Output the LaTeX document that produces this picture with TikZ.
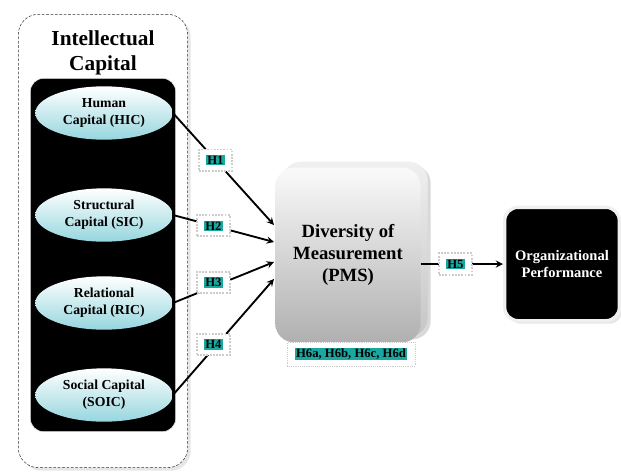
\documentclass[tikz,border=0pt]{standalone}
\usepackage{fontspec}
\setmainfont{Liberation Serif}
\usetikzlibrary{shapes.geometric, positioning, arrows, shadows}
\definecolor{hlteal}{RGB}{24,168,160}
\definecolor{capcyan}{RGB}{150,214,222}
\newcommand{\hyp}[1]{{\setlength{\fboxsep}{0.8pt}\colorbox{hlteal}{#1}}}

\begin{document}
\begin{tikzpicture}[x=0.75pt, y=-0.75pt, >=stealth,
    capital/.style={ellipse, minimum width=103pt, minimum height=40pt, inner sep=0pt, align=center, top color=white, bottom color=capcyan, font=\fontsize{10.3}{12.7}\selectfont\bfseries},
    hyplabel/.style={fill=white, draw=gray!40, densely dotted, inner xsep=5.5pt, inner ysep=4pt, font=\fontsize{9.5}{11}\selectfont\bfseries},
    link/.style={->, line width=1.4pt}]
    \useasboundingbox (0,0) rectangle (621,472);

    % intellectual capital group
    \node[draw=black!80, dash pattern=on 2pt off 1.3pt, fill=white, rounded corners=15pt, minimum width=127pt, minimum height=340pt, drop shadow={opacity=0.2}] (ic) at (103,241) {};
    \node[align=center, font=\fontsize{16}{19}\selectfont\bfseries] (ictitle) at (103,53) {Intellectual\\Capital};
    \node[fill=black, draw=gray!20, rounded corners=10pt, minimum width=109pt, minimum height=265pt] (icbox) at (103,255) {};

    \node[capital] (hic) at (104,113) {Human\\Capital (HIC)};
    \node[capital] (sic) at (104,215) {Structural\\Capital (SIC)};
    \node[capital] (ric) at (104,303) {Relational\\Capital (RIC)};
    \node[capital] (soic) at (104,395) {Social Capital\\(SOIC)};

    % performance measurement
    \node[top color=gray!12, bottom color=gray!45, rounded corners=14pt, minimum width=109pt, minimum height=131pt, drop shadow={opacity=0.3}] (pmsback) at (355,249) {};
    \node[top color=gray!4, bottom color=gray!62, rounded corners=14pt, minimum width=109pt, minimum height=131pt, align=center, font=\fontsize{14}{16.5}\selectfont\bfseries] (pms) at (348,255) {Diversity of\\Measurement\\(PMS)};
    \node[hyplabel, inner xsep=6pt] (h6) at (351,354) {\hyp{H6a, H6b, H6c, H6d}};

    \node[fill=black, draw=gray!12, line width=2.5pt, rounded corners=10pt, minimum width=86pt, minimum height=85pt, align=center, text=white, font=\fontsize{10.9}{13}\selectfont\bfseries, drop shadow={opacity=0.2}] (org) at (562,264) {Organizational\\Performance};

    \coordinate (in1) at (274,225);
    \coordinate (in2) at (274,242);
    \coordinate (in3) at (274,262);
    \coordinate (in4) at (274,279);

    \draw[link] (hic.east) -- node[hyplabel, pos=0.42] {\hyp{H1}} (in1);
    \draw[link] (sic.east) -- node[hyplabel, pos=0.4] {\hyp{H2}} (in2);
    \draw[link] (ric.east) -- node[hyplabel, pos=0.4, yshift=3pt] {\hyp{H3}} (in3);
    \draw[link] (soic.east) -- node[hyplabel, pos=0.4, yshift=3pt] {\hyp{H4}} (in4);
    \draw[link] (pms.east |- org.west) -- node[hyplabel, pos=0.42] {\hyp{H5}} (org.west);
\end{tikzpicture}
\end{document}
